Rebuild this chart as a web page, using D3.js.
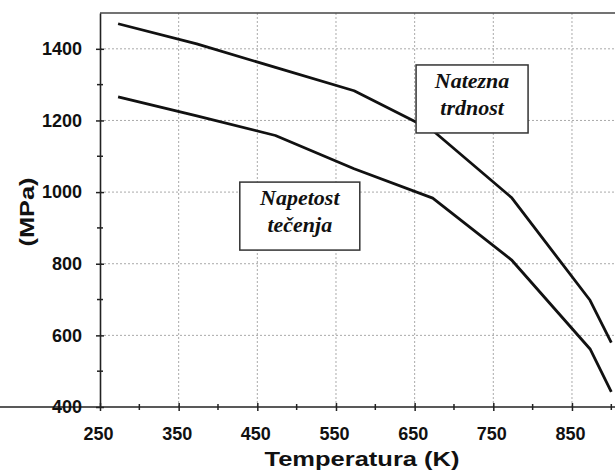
<!DOCTYPE html>
<html>
<head>
<meta charset="utf-8">
<script src="https://cdn.jsdelivr.net/npm/d3@7"></script>
<style>
  body { margin: 0; background: #fff; }
  .tick-label { font-family: "Liberation Sans", Arial, sans-serif; font-weight: bold; font-size: 18px; fill: #111; }
  .title { font-family: "Liberation Sans", Arial, sans-serif; font-weight: bold; font-size: 21px; fill: #111; }
  .note { font-family: "Liberation Serif", "Times New Roman", serif; font-weight: bold; font-style: italic; font-size: 22px; fill: #111; }
</style>
</head>
<body>
<div id="chart"></div>
<script>
const temps = [273, 373, 473, 573, 673, 773, 873, 900];
const tensile = [1470, 1414, 1348, 1283, 1172, 985, 698, 580];
const yieldStress = [1266, 1213, 1158, 1065, 983, 811, 562, 442];

const xTicks = [250, 350, 450, 550, 650, 750, 850];
const xMinor = [300, 400, 500, 600, 700, 800, 900];
const yTicks = [400, 600, 800, 1000, 1200, 1400];
const yMinor = [500, 700, 900, 1100, 1300];

const notes = [
  { lines: ["Natezna", "trdnost"], t: 723, v: 1260, w: 112, h: 68 },
  { lines: ["Napetost", "tečenja"], t: 504, v: 933, w: 120, h: 68 },
];

const width = 615;
const height = 475;
const margin = { top: 13, right: 4, bottom: 68, left: 100 };

const x = d3.scaleLinear().domain([250, 900]).range([margin.left, 611.3]);
const y = d3.scaleLinear().domain([400, 1500]).range([height - margin.bottom, margin.top]);

const svg = d3
  .select("#chart")
  .append("svg")
  .attr("width", width)
  .attr("height", height);

// grid
svg
  .append("g")
  .selectAll("line")
  .data(xTicks.slice(1))
  .enter()
  .append("line")
  .attr("x1", (d) => x(d))
  .attr("x2", (d) => x(d))
  .attr("y1", y(1500))
  .attr("y2", y(400))
  .attr("stroke", "#aaa")
  .attr("stroke-width", 1)
  .attr("stroke-dasharray", "2,2");
svg
  .append("g")
  .selectAll("line")
  .data(yTicks.slice(1))
  .enter()
  .append("line")
  .attr("x1", x(250))
  .attr("x2", width)
  .attr("y1", (d) => y(d))
  .attr("y2", (d) => y(d))
  .attr("stroke", "#aaa")
  .attr("stroke-width", 1)
  .attr("stroke-dasharray", "2,2");

// top frame line
svg
  .append("line")
  .attr("x1", x(250))
  .attr("x2", width)
  .attr("y1", y(1500))
  .attr("y2", y(1500))
  .attr("stroke", "#444")
  .attr("stroke-width", 1.5);

// axes
const xAxis = svg
  .append("g")
  .attr("transform", `translate(0,${y(400)})`)
  .call(d3.axisBottom(x).tickValues(xTicks).tickSize(4).tickSizeOuter(0).tickPadding(16).tickFormat(d3.format("d")));
const yAxis = svg
  .append("g")
  .attr("transform", `translate(${x(250)},0)`)
  .call(d3.axisLeft(y).tickValues(yTicks).tickSize(4).tickSizeOuter(0).tickPadding(14).tickFormat(d3.format("d")));

[xAxis, yAxis].forEach((g) => {
  g.select(".domain").attr("stroke", "#222").attr("stroke-width", 1.6);
  g.selectAll(".tick line").attr("stroke", "#222").attr("stroke-width", 1.5);
  g.selectAll(".tick text").attr("class", "tick-label").attr("fill", null);
  g.attr("font-size", null).attr("font-family", null);
});
xAxis.select(".domain").attr("d", `M0,0H${width}`);
xAxis.selectAll(".tick line").attr("y1", -4);
yAxis.selectAll(".tick line").attr("x1", 4);
xAxis.selectAll(".tick text").attr("dx", "-2");

// minor ticks
svg
  .append("g")
  .selectAll("line")
  .data(xMinor)
  .enter()
  .append("line")
  .attr("x1", (d) => x(d))
  .attr("x2", (d) => x(d))
  .attr("y1", y(400) - 3)
  .attr("y2", y(400) + 3)
  .attr("stroke", "#222")
  .attr("stroke-width", 1.5);
svg
  .append("g")
  .selectAll("line")
  .data(yMinor)
  .enter()
  .append("line")
  .attr("x1", x(250) - 3)
  .attr("x2", x(250) + 3)
  .attr("y1", (d) => y(d))
  .attr("y2", (d) => y(d))
  .attr("stroke", "#222")
  .attr("stroke-width", 1.5);

// curves
const line = d3
  .line()
  .x((d, i) => x(temps[i]))
  .y((d) => y(d));
[tensile, yieldStress].forEach((series) => {
  svg
    .append("path")
    .datum(series)
    .attr("d", line)
    .attr("fill", "none")
    .attr("stroke", "#111")
    .attr("stroke-width", 2.8)
    .attr("stroke-linejoin", "round");
});

// annotation boxes
const note = svg
  .append("g")
  .selectAll("g")
  .data(notes)
  .enter()
  .append("g")
  .attr("transform", (d) => `translate(${x(d.t)},${y(d.v)})`);
note
  .append("rect")
  .attr("x", (d) => -d.w / 2)
  .attr("y", (d) => -d.h / 2)
  .attr("width", (d) => d.w)
  .attr("height", (d) => d.h)
  .attr("fill", "#fff")
  .attr("stroke", "#333")
  .attr("stroke-width", 1.5);
note
  .selectAll("text")
  .data((d) => d.lines)
  .enter()
  .append("text")
  .attr("class", "note")
  .attr("text-anchor", "middle")
  .attr("y", (d, i) => (i === 0 ? -11 : 16))
  .text((d) => d);

// axis titles
svg
  .append("text")
  .attr("class", "title")
  .attr("x", 362)
  .attr("y", 466)
  .attr("text-anchor", "middle")
  .attr("textLength", 195)
  .attr("lengthAdjust", "spacingAndGlyphs")
  .text("Temperatura (K)");
svg
  .append("text")
  .attr("class", "title")
  .attr("transform", "translate(34,212) rotate(-90)")
  .attr("text-anchor", "middle")
  .attr("textLength", 69)
  .attr("lengthAdjust", "spacingAndGlyphs")
  .text("(MPa)");
</script>
</body>
</html>
